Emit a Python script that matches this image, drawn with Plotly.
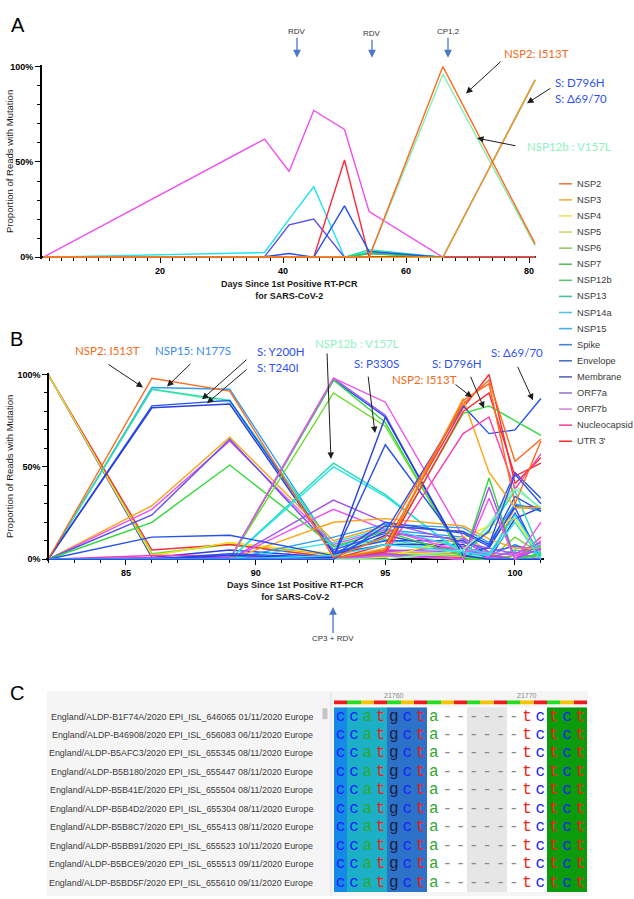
import plotly.graph_objects as go

W, H = 634, 899


def px(x):
    # pixel column -> paper x
    return x / W


def py(y):
    # pixel row (from top) -> paper y
    return 1 - y / H


GENES = ["NSP2", "NSP3", "NSP4", "NSP5", "NSP6", "NSP7", "NSP12b", "NSP13",
         "NSP14a", "NSP15", "Spike", "Envelope", "Membrane", "ORF7a", "ORF7b",
         "Nucleocapsid", "UTR 3'"]

LINE_COLORS = {
    "NSP2": "#ff6a1c", "NSP3": "#ffa312", "NSP4": "#f2e81e", "NSP5": "#b4e03a",
    "NSP6": "#6edb2c", "NSP7": "#2fd93a", "NSP12b": "#80f0b4", "NSP13": "#28dcb0",
    "NSP14a": "#22e4f2", "NSP15": "#2f9cf6", "Spike": "#2452f0", "Envelope": "#2a3ee0",
    "Membrane": "#5a52ee", "ORF7a": "#a24ef0", "ORF7b": "#f050f0",
    "Nucleocapsid": "#ff3caa", "UTR 3'": "#ff2a3a",
}
LEGEND_COLORS = {
    "NSP2": "#f47a45", "NSP3": "#f8ad45", "NSP4": "#ebe35a", "NSP5": "#c5da6c",
    "NSP6": "#98cb64", "NSP7": "#5dbb5a", "NSP12b": "#62c27c", "NSP13": "#48c397",
    "NSP14a": "#55c6dc", "NSP15": "#45aee8", "Spike": "#4586da", "Envelope": "#4672cc",
    "Membrane": "#5a66bb", "ORF7a": "#9a78cc", "ORF7b": "#cc8ad8",
    "Nucleocapsid": "#ee4a9a", "UTR 3'": "#ee3636",
}

# ---- panel A: % of reads with mutation, days 1-81
DAYS_A = [1, 37, 41, 45, 50, 54, 66, 81]
MUTS_A = [
    ("ORF7b", [0, 62, 45, 77, 67, 24, 0, 0]),
    ("NSP14a", [0, 2.5, 20, 37, 0, 3, 0, 0]),
    ("Membrane", [0, 0.3, 17, 20, 0, 2, 0, 0]),
    ("NSP13", [0, 0, 0, 0, 0, 4, 0, 0]),
    ("NSP7", [0, 0, 0, 0, 0, 2, 0, 0]),
    ("UTR 3'", [0, 0, 0, 0, 51, 0, 0, 0]),
    ("Spike", [0, 0.3, 2, 0, 27, 3, 0, 93]),
    ("NSP12b", [0, 0, 0, 0, 0, 0, 96, 6]),
    ("NSP3", [0, 0, 0, 0, 0, 0, 0, 93]),
    ("NSP2", [0, 0, 0, 0, 0, 0, 100, 7]),
]

# ---- panel B: days 82-101
DAYS_B = [82, 86, 89, 93, 95, 98, 99, 100, 101]
MUTS_B = [
    ("NSP3", [100, 2, 9, 2, 4, 3, 0, 28, 27]),
    ("NSP6", [100, 3, 8, 1, 3, 2, 0, 12, 3]),
    ("UTR 3'", [100, 5, 8, 1, 2, 1, 0, 0, 3]),
    ("Envelope", [100, 1, 5, 1, 13, 4, 6, 29, 28]),
    ("NSP4", [100, 2, 9, 3, 1, 12, 14, 20, 2]),
    ("NSP15", [0, 93, 92, 6, 16, 12, 2, 8, 2]),
    ("NSP12b", [0, 92, 85, 6, 10, 3, 19, 40, 27]),
    ("NSP13", [0, 92, 86, 7, 11, 4, 1, 5, 3]),
    ("Spike", [0, 83, 86, 4, 10, 10, 2, 25, 2]),
    ("Envelope", [0, 82, 84, 3, 8, 8, 0, 22, 28]),
    ("NSP3", [0, 29, 66, 10, 18, 15, 3, 0, 2]),
    ("ORF7b", [0, 27, 64, 8, 16, 6, 1, 0, 10]),
    ("Membrane", [0, 24, 65, 5, 14, 11, 4, 7, 5]),
    ("NSP7", [0, 20, 51, 7, 15, 2, 0, 2, 7]),
    ("Nucleocapsid", [0, 2, 2, 0, 4, 7, 2, 0, 12]),
    ("ORF7a", [0, 1, 1, 0, 5, 4, 2, 0, 8]),
    ("NSP4", [0, 0, 0, 0, 1, 12, 18, 22, 1]),
    ("ORF7a", [0, 0, 0, 98, 78, 0, 1, 4, 0]),
    ("Spike", [0, 0, 0, 97, 77, 1, 7, 28, 0]),
    ("NSP7", [0, 0, 0, 97, 74, 0, 0, 0, 3]),
    ("NSP6", [0, 0, 0, 90, 72, 1, 0, 0, 0]),
    ("ORF7b", [0, 0, 0, 98, 85, 12, 0, 0, 0]),
    ("NSP13", [0, 0, 0, 52, 35, 2, 16, 37, 3]),
    ("NSP14a", [0, 0, 0, 50, 34, 3, 0, 0, 1]),
    ("ORF7a", [0, 0, 0, 32, 20, 9, 6, 3, 9]),
    ("ORF7b", [0, 0, 0, 27, 16, 4, 4, 2, 5]),
    ("NSP3", [0, 0, 0, 20, 22, 18, 11, 6, 6]),
    ("NSP15", [0, 0, 0, 12, 19, 17, 9, 30, 26]),
    ("NSP14a", [0, 0, 0, 9, 17, 6, 3, 24, 2]),
    ("Spike", [0, 0, 3, 1, 62, 5, 15, 47, 33]),
    ("Envelope", [0, 0, 2, 1, 77, 2, 0, 0, 0]),
    ("Spike", [0, 12, 13, 2, 20, 14, 7, 34, 26]),
    ("UTR 3'", [0, 0, 0, 0, 8, 82, 100, 41, 55]),
    ("NSP3", [0, 0, 0, 0, 6, 87, 47, 28, 28]),
    ("Spike", [0, 0, 0, 2, 15, 83, 68, 70, 87]),
    ("NSP7", [0, 0, 0, 0, 5, 79, 83, 75, 67]),
    ("Nucleocapsid", [0, 0, 0, 0, 3, 68, 77, 38, 57]),
    ("UTR 3'", [0, 0, 0, 0, 4, 80, 90, 45, 52]),
    ("NSP2", [0, 0, 0, 0, 5, 86, 95, 30, 64]),
    ("NSP7", [0, 0, 0, 0, 2, 0, 44, 0, 3]),
    ("ORF7a", [0, 0, 0, 0, 3, 0, 39, 0, 6]),
    ("ORF7b", [0, 0, 0, 0, 2, 0, 33, 0, 20]),
    ("NSP12b", [0, 0, 0, 0, 0, 5, 18, 38, 28]),
    ("NSP14a", [0, 0, 0, 2, 8, 4, 2, 20, 0]),
    ("Spike", [0, 0, 0, 0, 18, 15, 8, 46, 30]),
    ("NSP2", [0, 98, 91, 1, 12, 84, 97, 53, 65]),
]

# ---- panel C: alignment around the 69/70 deletion
SEQ_LABELS = [
    "England/ALDP-B1F74A/2020 EPI_ISL_646065 01/11/2020 Europe",
    "England/ALDP-B46908/2020 EPI_ISL_656083 06/11/2020 Europe",
    "England/ALDP-B5AFC3/2020 EPI_ISL_655345 08/11/2020 Europe",
    "England/ALDP-B5B180/2020 EPI_ISL_655447 08/11/2020 Europe",
    "England/ALDP-B5B41E/2020 EPI_ISL_655504 08/11/2020 Europe",
    "England/ALDP-B5B4D2/2020 EPI_ISL_655304 08/11/2020 Europe",
    "England/ALDP-B5B8C7/2020 EPI_ISL_655413 08/11/2020 Europe",
    "England/ALDP-B5BB91/2020 EPI_ISL_655523 10/11/2020 Europe",
    "England/ALDP-B5BCE9/2020 EPI_ISL_655513 09/11/2020 Europe",
    "England/ALDP-B5BD5F/2020 EPI_ISL_655610 09/11/2020 Europe",
]
SEQS = ["ccatgcta------tctct"] * 10
COL_SHADE = ["blue", "teal", "teal", "teal", "steel", "steel", "steel",
             "none", "none", "none", "gap", "gap", "gap", "none", "none", "none",
             "green", "green", "green"]
FRAME = ["r", "g", "y", "r", "g", "y", "r", "g", "y", "r", "g", "y", "r", "g",
         "y", "r", "g", "y", "r"]
RULER_TICKS = [4, 14]
RULER_TEXT = ["21760", "21770"]

SHADES = ["none", "gap", "blue", "teal", "steel", "green"]
SHADE_COLORS = ["#ffffff", "#e6e6e6", "#1688e6", "#1cb0c6", "#2b72c8", "#0b9b0b"]
FRAMES = ["r", "g", "y"]
FRAME_COLORS = ["#ee1c1c", "#22dd22", "#f5c400"]
BASE_COLORS = {"c": "#1b22ff", "a": "#2ea82e", "t": "#f01e1e", "g": "#1c1c3c", "-": "#8a8a8a"}


def stepped(colors):
    n = len(colors)
    scale = []
    for i, c in enumerate(colors):
        scale += [[i / n, c], [(i + 1) / n, c]]
    return scale


fig = go.Figure()

for gene, vals in MUTS_A:
    fig.add_trace(go.Scatter(x=DAYS_A, y=vals, mode="lines", xaxis="x", yaxis="y",
                             line=dict(color=LINE_COLORS[gene], width=1.4),
                             showlegend=False, hoverinfo="skip"))
for gene, vals in MUTS_B:
    fig.add_trace(go.Scatter(x=DAYS_B, y=vals, mode="lines", xaxis="x2", yaxis="y2",
                             line=dict(color=LINE_COLORS[gene], width=1.4),
                             showlegend=False, hoverinfo="skip"))

# alignment backgrounds + codon frame ruler
ncol = len(COL_SHADE)
fig.add_trace(go.Heatmap(
    z=[[SHADES.index(s) for s in COL_SHADE] for _ in SEQS],
    x=list(range(ncol)), y=list(range(len(SEQS))),
    colorscale=stepped(SHADE_COLORS), zmin=-0.5, zmax=len(SHADES) - 0.5,
    showscale=False, hoverinfo="skip", xaxis="x3", yaxis="y3"))
fig.add_trace(go.Heatmap(
    z=[[FRAMES.index(f) for f in FRAME]], x=list(range(ncol)), y=[0],
    colorscale=stepped(FRAME_COLORS), zmin=-0.5, zmax=2.5,
    showscale=False, hoverinfo="skip", xaxis="x3", yaxis="y4"))

for base, col in BASE_COLORS.items():
    xs, ys = [], []
    for r, s in enumerate(SEQS):
        for c, ch in enumerate(s):
            if ch == base:
                xs.append(c)
                ys.append(r)
    fig.add_trace(go.Scatter(x=xs, y=ys, mode="text", text=[base] * len(xs),
                             textfont=dict(family="Liberation Mono", size=16, color=col),
                             xaxis="x3", yaxis="y3", showlegend=False, hoverinfo="skip"))

tickfont = dict(family="Liberation Sans", size=9, color="black", weight="bold")


def axis_style(**kw):
    d = dict(showline=True, linecolor="black", linewidth=1.5, ticks="outside",
             ticklen=5, tickwidth=1.2, tickcolor="black", showgrid=False,
             zeroline=False, tickfont=tickfont)
    d.update(kw)
    return d


def minor(step):
    return dict(ticks="outside", ticklen=3, tickwidth=1, tickcolor="black",
                tick0=0, dtick=step, showgrid=False)


pct = dict(tickmode="array", tickvals=[0, 50, 100], ticktext=["0%", "50%", "100%"])

# A: day 20 at 160px, day 80 at 529px; 0% at 256px, 100% at 64px
a_dx = (529 - 160) / 60
a_dy = (256 - 64) / 100
# B: day 85 at 126px, day 100 at 515px; 0% at 560px, 100% at 374px
b_dx = (515 - 126) / 15
b_dy = (560 - 374) / 100

fig.update_layout(
    width=W, height=H, autosize=False,
    margin=dict(l=0, r=0, t=0, b=0),
    paper_bgcolor="white", plot_bgcolor="rgba(0,0,0,0)",
    showlegend=False,
    xaxis=axis_style(domain=[px(160 + (0.8 - 20) * a_dx), px(160 + (81.2 - 20) * a_dx)],
                     range=[0.8, 81.2], anchor="free", position=py(256),
                     tick0=0, dtick=20, minor=minor(2), layer="below traces"),
    yaxis=axis_style(domain=[py(256 + a_dy), py(64 - a_dy)], range=[-1, 101],
                     anchor="x", minor=minor(10), **pct),
    xaxis2=axis_style(domain=[px(126 + (81.9 - 85) * b_dx), px(126 + (101.1 - 85) * b_dx)],
                      range=[81.9, 101.1], anchor="free", position=py(560),
                      tick0=0, dtick=5, minor=minor(1), layer="below traces"),
    yaxis2=axis_style(domain=[py(560 + b_dy), py(374 - b_dy)], range=[-1, 101],
                      anchor="free", position=px(48), minor=minor(10), **pct),
    xaxis3=dict(domain=[px(334), px(587)], range=[-0.5, ncol - 0.5], visible=False,
                anchor="y3", fixedrange=True),
    yaxis3=dict(domain=[py(895), py(709)], range=[len(SEQS) - 0.5, -0.5], visible=False,
                anchor="x3"),
    yaxis4=dict(domain=[py(706.5), py(702)], range=[-0.5, 0.5], visible=False,
                anchor="x3"),
)

shapes = [
    dict(type="rect", xref="paper", yref="paper", x0=px(47), x1=px(588),
         y0=py(899), y1=py(693), fillcolor="#f5f5f5", line=dict(width=0), layer="below"),
    dict(type="line", xref="paper", yref="paper", x0=px(331), x1=px(331),
         y0=py(899), y1=py(693), line=dict(color="#e0e0e0", width=1)),
    dict(type="rect", xref="paper", yref="paper", x0=px(322.5), x1=px(327.5),
         y0=py(721), y1=py(710), fillcolor="#c4c4c4", line=dict(width=0)),
]

annotations = []


def text(t, x, y, size, color, xanchor="left", family="Lato", **kw):
    annotations.append(dict(text=t, x=px(x), y=py(y), xref="paper", yref="paper",
                            xanchor=xanchor, yanchor="middle", showarrow=False,
                            font=dict(family=family, size=size, color=color), **kw))


def arrow(tail, head, color="#1e1e1e"):
    annotations.append(dict(text="", x=px(head[0]), y=py(head[1]), xref="paper",
                            yref="paper", ax=tail[0] - head[0], ay=tail[1] - head[1],
                            showarrow=True, arrowhead=2, arrowsize=1.3, arrowwidth=1,
                            arrowcolor=color, standoff=0, startstandoff=0))


def treatment(label, x, head_y, text_y):
    annotations.append(dict(text=label, x=px(x), y=py(head_y), xref="paper", yref="paper",
                            ax=0, ay=text_y - head_y, showarrow=True, arrowhead=2,
                            arrowsize=1.2, arrowwidth=1.3, arrowcolor="#4a78c8",
                            standoff=0, font=dict(family="Liberation Sans", size=8,
                                                  color="#333333")))


# panel letters
text("A", 9, 22, 20, "black", family="Liberation Sans")
text("B", 8, 338, 20, "black", family="Liberation Sans")
text("C", 8, 695, 20, "black", family="Liberation Sans")

# treatments
treatment("RDV", 297, 55, 29)
treatment("RDV", 372, 55, 31)
treatment("CP1,2", 448, 55, 29)
treatment("CP3 + RDV", 333, 608, 640)

ORANGE, BLUE, SKY, MINT = "#f36c20", "#2f52f2", "#3a8ceb", "#8ef2c0"
FS = 11.5

# panel A callouts
text("NSP2: I513T", 502, 51, FS, ORANGE)
text("S: D796H", 553, 80, FS, BLUE)
text("S: Δ69/70", 553, 96, FS, BLUE)
text("NSP12b : V157L", 525, 144, FS, MINT)
arrow((502, 58), (466, 91))
arrow((552, 85), (527, 101))
arrow((517, 144), (477, 136))

# panel B callouts
text("NSP2: I513T", 73, 350, FS, ORANGE)
text("NSP15: N177S", 153, 350, FS, SKY)
text("S: Y200H", 255, 351, FS, BLUE)
text("S: T240I", 255, 367, FS, BLUE)
text("NSP12b : V157L", 313, 343, FS, MINT)
text("S: P330S", 352, 363, FS, BLUE)
text("S: D796H", 430, 363, FS, BLUE)
text("NSP2: I513T", 390, 379, FS, ORANGE)
text("S: Δ69/70", 489, 352, FS, BLUE)
arrow((107, 363), (143, 387))
arrow((192, 362), (167, 386))
arrow((248, 358), (202, 399))
arrow((248, 368), (207, 403))
arrow((327, 352), (331, 459))
arrow((368, 375), (375, 433))
arrow((470, 375), (484, 408))
arrow((454, 383), (472, 397))
arrow((517, 365), (533, 400))

# axis titles
for cx, cy in [(289, 288.7), (295, 591.5)]:
    text("<b>Days Since 1st Positive RT-PCR</b><br><b>for SARS-CoV-2</b>", cx, cy, 9,
         "#1a1a1a", xanchor="center", family="Liberation Sans")
for cy in [160, 467]:
    text("Proportion of Reads with Mutation", 10, cy, 9.5, "#1a1a1a", xanchor="center",
         family="Liberation Sans", textangle=-90)

# legend
for i, g in enumerate(GENES):
    y = 182 + i * 16.2
    shapes.append(dict(type="line", xref="paper", yref="paper", x0=px(559), x1=px(572),
                       y0=py(y), y1=py(y), line=dict(color=LEGEND_COLORS[g], width=1.6)))
    text(g, 575, y, 9.3, "#3a3a3a", family="Liberation Sans")

# sequence names
for r, lab in enumerate(SEQ_LABELS):
    annotations.append(dict(text=lab, x=px(315), y=r, xref="paper", yref="y3",
                            showarrow=False, xanchor="right", yanchor="middle",
                            font=dict(family="Liberation Sans", size=8.9, color="#3a3a3a")))

# ruler positions
for pos, lab in zip(RULER_TICKS, RULER_TEXT):
    annotations.append(dict(text=lab, x=pos, y=py(697), xref="x3", yref="paper",
                            showarrow=False, xanchor="center", yanchor="middle",
                            font=dict(family="Liberation Sans", size=7, color="#888888")))

fig.update_layout(shapes=shapes, annotations=annotations)

# drop the browser's default 8px body margin so the figure sits at the page origin
fig.write_html("out.html", config={"displayModeBar": False},
               post_script="document.body.style.margin = '0';")
